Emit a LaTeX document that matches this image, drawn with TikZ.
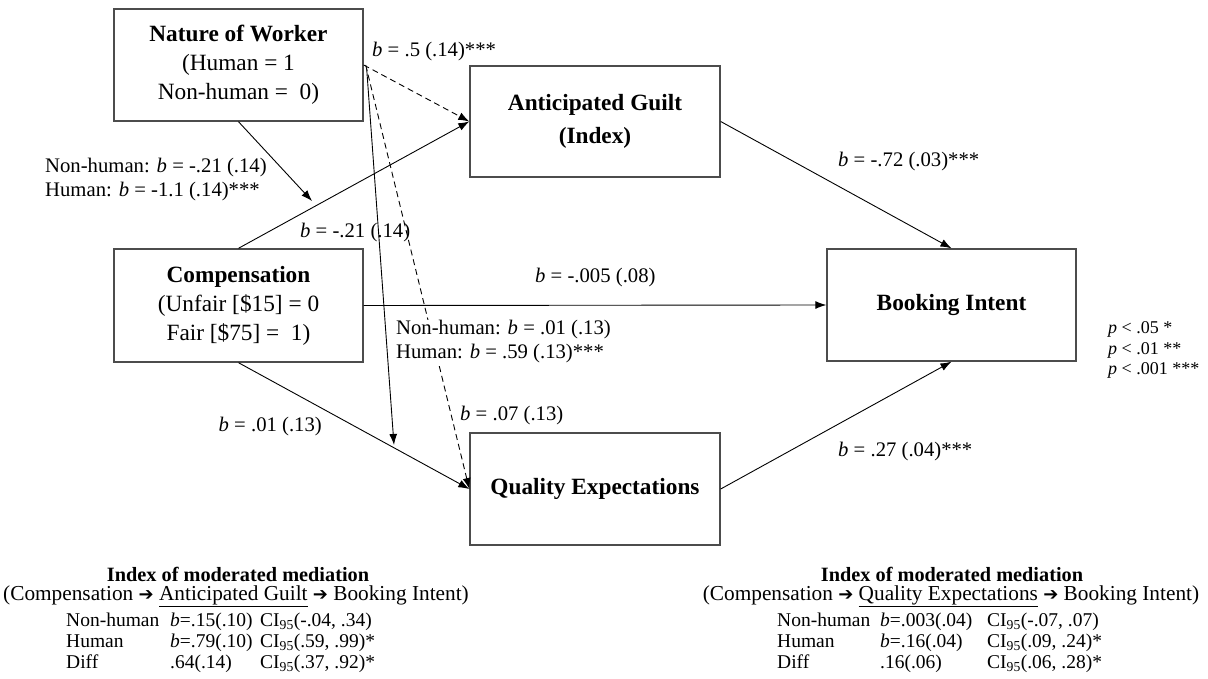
\documentclass[tikz,border=0pt]{standalone}
\usepackage{fontspec}
\setmainfont{Liberation Serif}
\newfontfamily\arrowfont{DejaVu Sans}
\usetikzlibrary{arrows.meta}
\newcommand{\ar}{{\arrowfont\fontsize{18}{18}\selectfont ➔}}
\begin{document}
\begin{tikzpicture}[x=1pt,y=-1pt,
  box/.style={draw=black!70, line width=1.4pt, minimum width=249pt, minimum height=112pt, align=center, inner sep=0pt, font=\fontsize{23.3}{29}\selectfont},
  conn/.style={line width=0.9pt, -{Latex[length=11pt,width=8pt]}},
  dconn/.style={conn, dash pattern=on 6pt off 4pt},
  lbl/.style={inner sep=0pt, font=\fontsize{20.7}{24}\selectfont, align=left},
  tbl/.style={inner sep=0pt, font=\fontsize{19.5}{21}\selectfont, anchor=base west},
  ttl/.style={inner sep=0pt, font=\fontsize{20.3}{21}\selectfont},
  pv/.style={inner sep=0pt, font=\fontsize{18}{20}\selectfont, anchor=base west},
]
\useasboundingbox (0,0) rectangle (1208,679);

% boxes
\node[box] (nature) at (238.5,65) {\textbf{Nature of Worker}\\(Human = 1\\Non-human =\ \ 0)};
\node[box, minimum width=250pt, minimum height=111pt, font=\fontsize{23.3}{33}\selectfont] (guilt) at (595,121.5) {\textbf{Anticipated Guilt}\\\textbf{(Index)}};
\node[box, minimum height=113pt] (comp) at (238.5,305.5) {\textbf{Compensation}\\(Unfair [\$15] = 0\\Fair [\$75] =\ \ 1)};
\node[box] (book) at (951.5,305) {\textbf{Booking Intent}};
\node[box, minimum width=250pt] (qual) at (595,489) {\textbf{Quality Expectations}};

\coordinate (mod1) at (312,201);
\coordinate (mod2) at (394,445);

% connectors
\draw[conn] (nature.south) -- (mod1);
\draw[conn] (comp.north) -- (guilt.west);
\draw[dconn] (nature.east) -- (guilt.west);
\draw[conn] ([xshift=3pt,yshift=-4pt]nature.east) -- (mod2);
\draw[dconn] ([xshift=2pt]nature.east) -- (qual.west);
\draw[conn] (comp.south) -- (qual.west);
\draw[conn] (comp.east) -- (book.west);
\draw[conn] (guilt.east) -- (book.north);
\draw[conn] (qual.east) -- (book.south);

% labels
\node[lbl, anchor=west] (l1) at (372,52) {\textit{b} = .5 (.14)***};
\node[lbl, anchor=west] (l2) at (45,180) {Non-human: \textit{b} = -.21 (.14)\\Human: \textit{b} = -1.1 (.14)***};
\node[lbl, anchor=west] (l3) at (300,233) {\textit{b} = -.21 (.14)};
\node[lbl, anchor=west] (l4) at (838,162) {\textit{b} = -.72 (.03)***};
\node[lbl, anchor=west] (l5) at (535,278) {\textit{b} = -.005 (.08)};
\node[lbl, anchor=west, fill=white, inner sep=1pt] (l6) at (395,342) {Non-human: \textit{b} = .01 (.13)\\Human: \textit{b} = .59 (.13)***};
\node[lbl, anchor=west] (l7) at (460,416) {\textit{b} = .07 (.13)};
\node[lbl, anchor=east] (l8) at (322,427) {\textit{b} = .01 (.13)};
\node[lbl, anchor=west] (l9) at (838,452) {\textit{b} = .27 (.04)***};

% p values
\node[pv] (p1) at (1108,334) {\textit{p} < .05 *};
\node[pv] (p2) at (1108,354) {\textit{p} < .01 **};
\node[pv] (p3) at (1108,374) {\textit{p} < .001 ***};

% left table
\node[ttl] (lt1) at (238,574) {\textbf{Index of moderated mediation}};
\node[ttl, font=\fontsize{21.3}{21}\selectfont] (lt2) at (236,596) {(Compensation \ar{} \underline{Anticipated Guilt} \ar{} Booking Intent)};
\node[tbl] (la1) at (66,626.5) {Non-human};
\node[tbl] (la2) at (66,647.5) {Human};
\node[tbl] (la3) at (66,668.5) {Diff};
\node[tbl] (lb1) at (170,626.5) {\textit{b}=.15(.10)};
\node[tbl] (lb2) at (170,647.5) {\textit{b}=.79(.10)};
\node[tbl] (lb3) at (170,668.5) {.64(.14)};
\node[tbl] (lc1) at (260,626.5) {CI\textsubscript{95}(-.04, .34)};
\node[tbl] (lc2) at (260,647.5) {CI\textsubscript{95}(.59, .99)*};
\node[tbl] (lc3) at (260,668.5) {CI\textsubscript{95}(.37, .92)*};

% right table
\node[ttl] (rt1) at (952,574) {\textbf{Index of moderated mediation}};
\node[ttl, font=\fontsize{21.3}{21}\selectfont] (rt2) at (951,596) {(Compensation \ar{} \underline{Quality Expectations} \ar{} Booking Intent)};
\node[tbl] (ra1) at (777,626.5) {Non-human};
\node[tbl] (ra2) at (777,647.5) {Human};
\node[tbl] (ra3) at (777,668.5) {Diff};
\node[tbl] (rb1) at (880,626.5) {\textit{b}=.003(.04)};
\node[tbl] (rb2) at (880,647.5) {\textit{b}=.16(.04)};
\node[tbl] (rb3) at (880,668.5) {.16(.06)};
\node[tbl] (rc1) at (987,626.5) {CI\textsubscript{95}(-.07, .07)};
\node[tbl] (rc2) at (987,647.5) {CI\textsubscript{95}(.09, .24)*};
\node[tbl] (rc3) at (987,668.5) {CI\textsubscript{95}(.06, .28)*};
\end{tikzpicture}
\end{document}
